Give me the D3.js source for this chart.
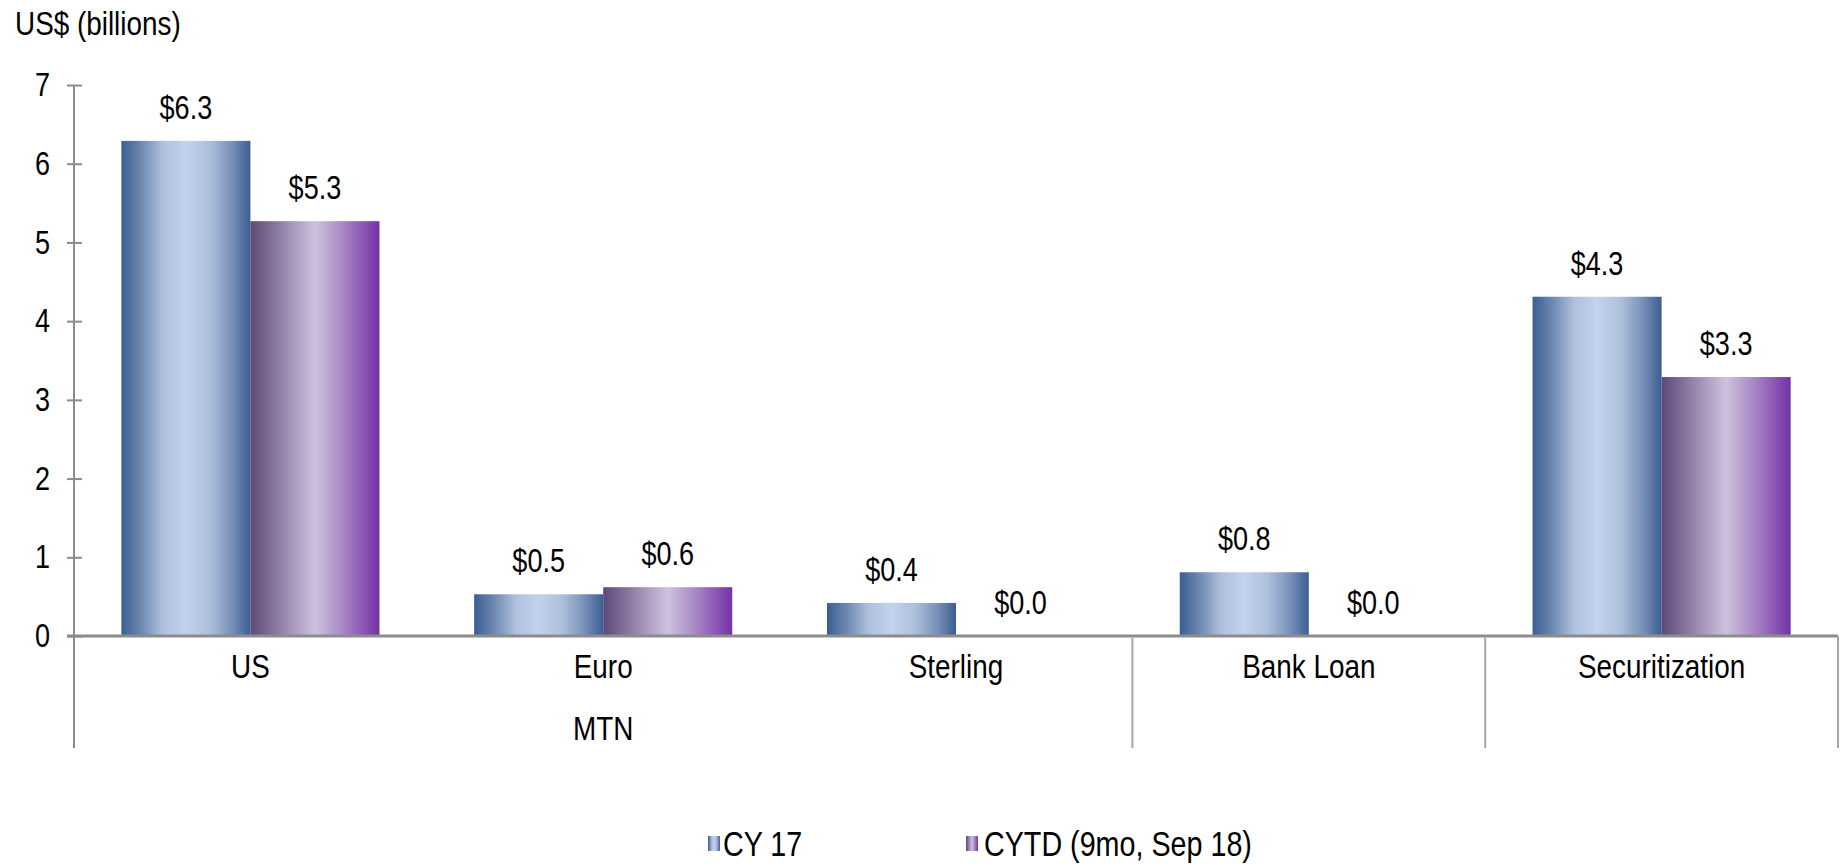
<!DOCTYPE html>
<html>
<head>
<meta charset="utf-8">
<script src="https://cdn.jsdelivr.net/npm/d3@7"></script>
<style>
  body { margin: 0; background: #fff; }
  svg text { font-family: "Liberation Sans", Arial, sans-serif; fill: #000; }
</style>
</head>
<body>
<div id="chart"></div>
<script>
// data
const categories = ["US", "Euro", "Sterling", "Bank Loan", "Securitization"];
const groups = [
  { name: "MTN", from: 0, to: 2 },
  { name: "", from: 3, to: 3 },
  { name: "", from: 4, to: 4 }
];
const seriesNames = ["CY 17", "CYTD (9mo, Sep 18)"];
const cy17 = [6.29, 0.53, 0.42, 0.81, 4.31];
const cytd = [5.27, 0.62, 0.0, 0.0, 3.29];
const yTicks = [0, 1, 2, 3, 4, 5, 6, 7];

const width = 1847, height = 866;
const margin = { left: 74, right: 9, top: 85, zero: 636 };
const narrow = 0.82; // the original font is a narrow one

const svg = d3.select("#chart").append("svg")
  .attr("width", width)
  .attr("height", height);

// put a text at (x,y) squeezed sideways
function place(sel, fx, fy) {
  sel.attr("transform", (d, i) => `translate(${fx(d, i)},${fy(d, i)}) scale(${narrow},1)`);
}

// gradients (shiny Excel look)
const defs = svg.append("defs");
const gradStops = [
  [["0", "#3a5e91"], ["0.15", "#6c87b0"], ["0.32", "#afc0dd"], ["0.5", "#c3d2ed"], ["0.68", "#afc0dd"], ["0.85", "#7a92b8"], ["1", "#3b5e91"]],
  [["0", "#5d4878"], ["0.2", "#8a789f"], ["0.4", "#b9aacb"], ["0.5", "#cdc2dc"], ["0.7", "#ab8cc7"], ["0.88", "#8a55b4"], ["1", "#7332a6"]]
];
gradStops.forEach((stops, i) => {
  const g = defs.append("linearGradient")
    .attr("id", "grad" + i)
    .attr("x1", "0").attr("x2", "1").attr("y1", "0").attr("y2", "0");
  g.selectAll("stop").data(stops).join("stop")
    .attr("offset", d => d[0])
    .attr("stop-color", d => d[1]);
});

const x0 = d3.scaleBand()
  .domain(categories)
  .range([margin.left, width - margin.right])
  .padding(0);

const x1 = d3.scaleBand()
  .domain(seriesNames)
  .range([0, x0.bandwidth()])
  .paddingInner(0)
  .paddingOuter(0.367);

const y = d3.scaleLinear()
  .domain([0, 7])
  .range([margin.zero, margin.top]);

// y axis
const yAxis = d3.axisLeft(y)
  .tickValues(yTicks)
  .tickSize(7)
  .tickPadding(17)
  .tickFormat(d3.format("d"));

const ya = svg.append("g")
  .attr("transform", `translate(${margin.left},0)`)
  .call(yAxis);
ya.select(".domain").remove();
ya.selectAll(".tick line")
  .attr("x1", -7).attr("x2", 8)
  .attr("stroke", "#8c8c8c").attr("stroke-width", 2);
ya.selectAll(".tick text")
  .style("font-size", "33px")
  .attr("x", -24 / narrow)
  .attr("transform", `scale(${narrow},1)`);

svg.append("line")
  .attr("x1", margin.left).attr("x2", margin.left)
  .attr("y1", y(7)).attr("y2", 748)
  .attr("stroke", "#8c8c8c").attr("stroke-width", 2);

// bars
const rows = categories.map((c, i) => ({ cat: c, vals: [cy17[i], cytd[i]] }));

const barG = svg.append("g").selectAll("g")
  .data(rows)
  .join("g")
  .attr("transform", d => `translate(${x0(d.cat)},0)`);

barG.selectAll("rect")
  .data(d => d.vals.map((v, i) => ({ s: seriesNames[i], i: i, v: v })))
  .join("rect")
  .attr("x", d => x1(d.s))
  .attr("width", x1.bandwidth())
  .attr("y", d => y(d.v))
  .attr("height", d => y(0) - y(d.v))
  .attr("fill", d => `url(#grad${d.i})`);

barG.selectAll("text.val")
  .data(d => d.vals.map((v, i) => ({ s: seriesNames[i], v: v })))
  .join("text")
  .attr("class", "val")
  .attr("text-anchor", "middle")
  .style("font-size", "33px")
  .text(d => d3.format("$.1f")(d.v))
  .call(place, d => x1(d.s) + x1.bandwidth() / 2, d => y(d.v) - 22);

// zero line
svg.append("line")
  .attr("x1", margin.left - 7).attr("x2", width - margin.right)
  .attr("y1", y(0)).attr("y2", y(0))
  .attr("stroke", "#8c8c8c").attr("stroke-width", 3);

// category axis, two levels
svg.append("g").selectAll("text")
  .data(categories)
  .join("text")
  .attr("text-anchor", "middle")
  .style("font-size", "34px")
  .text(d => d)
  .call(place, d => x0(d) + x0.bandwidth() / 2, () => 678);

svg.append("g").selectAll("text")
  .data(groups.filter(g => g.name))
  .join("text")
  .attr("text-anchor", "middle")
  .style("font-size", "34px")
  .text(g => g.name)
  .call(place, g => (x0(categories[g.from]) + x0(categories[g.to]) + x0.bandwidth()) / 2, () => 740);

// group separators
svg.append("g").selectAll("line")
  .data(groups)
  .join("line")
  .attr("x1", g => x0(categories[g.to]) + x0.bandwidth())
  .attr("x2", g => x0(categories[g.to]) + x0.bandwidth())
  .attr("y1", y(0)).attr("y2", 748)
  .attr("stroke", "#a6a6a6").attr("stroke-width", 2);

// title
svg.append("text")
  .style("font-size", "34px")
  .text("US$ (billions)")
  .call(place, () => 15, () => 35);

// legend
const legendX = [708, 966];
const lg = svg.append("g").selectAll("g")
  .data(seriesNames)
  .join("g")
  .attr("transform", (d, i) => `translate(${legendX[i]},836)`);
lg.append("rect")
  .attr("width", 12).attr("height", 15)
  .attr("fill", (d, i) => `url(#grad${i})`);
lg.append("text")
  .style("font-size", "35px")
  .text(d => d)
  .call(place, (d, i) => i === 0 ? 15 : 18, () => 20);
</script>
</body>
</html>
